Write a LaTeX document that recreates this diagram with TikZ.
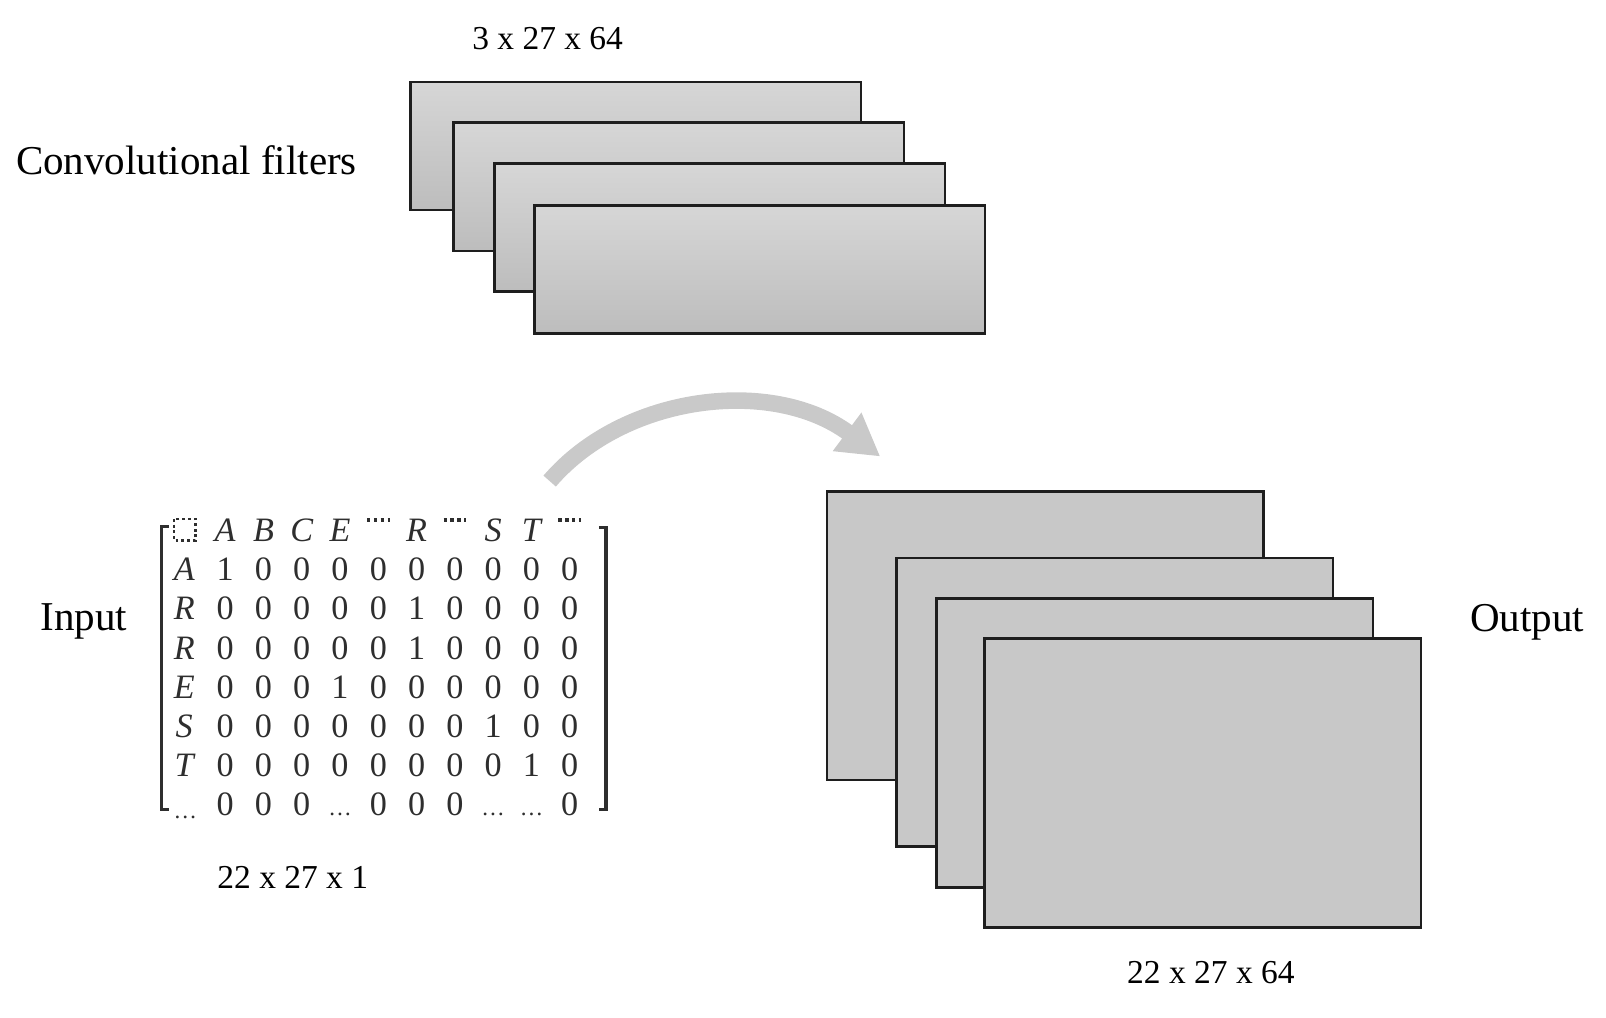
\documentclass[tikz,border=0pt]{standalone}
\usepackage{fontspec}
\setmainfont{Liberation Serif}
\usetikzlibrary{arrows.meta}
\definecolor{boxedge}{HTML}{1E1E1E}
\definecolor{outfill}{HTML}{C8C8C8}
\definecolor{arrowgray}{HTML}{C9C9C9}
\definecolor{inkgray}{HTML}{2E2E2E}
\begin{document}
\begin{tikzpicture}[x=0.01cm,y=-0.01cm,
  lbl/.style={inner sep=0pt, font=\fontsize{11.4}{13}\selectfont},
  dimlbl/.style={inner sep=0pt, font=\fontsize{9.3}{11}\selectfont},
  cell/.style={inner sep=0pt, anchor=base, text=inkgray, font=\fontsize{9.5}{11}\selectfont},
  ell/.style={inner sep=0pt, anchor=base, text=inkgray, font=\fontsize{6.5}{8}\selectfont},
  filtbox/.style={draw=boxedge, line width=0.75pt, top color=black!16, bottom color=black!26,
    anchor=north west, minimum width=4.40cm, minimum height=1.25cm, inner sep=0pt, outer sep=0pt},
  outbox/.style={draw=boxedge, line width=0.75pt, fill=outfill,
    anchor=north west, minimum width=4.26cm, minimum height=2.82cm, inner sep=0pt, outer sep=0pt},
  hdots/.style={inkgray, line width=0.9pt, dash pattern=on 0.9pt off 1.0pt},
  brk/.style={inkgray, line width=0.9pt}]
\useasboundingbox (0,0) rectangle (1569,994);

% labels
\node[lbl, anchor=west] (cf) at (15,157) {Convolutional filters};
\node[dimlbl] (fdim) at (535,38) {3 x 27 x 64};
\node[lbl] (inp) at (82,607) {Input};
\node[lbl] (outl) at (1492,608) {Output};
\node[dimlbl] (idim) at (286,857) {22 x 27 x 1};
\node[dimlbl] (odim) at (1183,950) {22 x 27 x 64};

% convolutional filters
\node[filtbox] (f1) at (401,80) {};
\node[filtbox] (f2) at (443,120) {};
\node[filtbox] (f3) at (483,160) {};
\node[filtbox] (f4) at (522,201) {};

% output feature maps
\node[outbox] (o1) at (808,480) {};
\node[outbox] (o2) at (876,545) {};
\node[outbox] (o3) at (915,585) {};
\node[outbox] (o4) at (962,624) {};

% arrow
\coordinate (as) at (537,470);
\coordinate (ae) at (860,446);
\draw[arrowgray, line width=4.6pt, -{Triangle[width=12.5pt,length=11.5pt]}]
  (as) .. controls (610,385) and (755,368) .. (ae);

% input matrix
\draw[inkgray, line width=0.6pt, dash pattern=on 0.8pt off 0.8pt] (170,507) rectangle (191,528);
\foreach \c/\t in {1/A,2/B,3/C,4/E,6/R,8/S,9/T}
  \node[cell] (h\c) at ({220+(\c-1)*37.4},529) {\itshape \t};
\foreach \c in {5,7,10}
  \draw[hdots] ({220+(\c-1)*37.4-11},508) -- ({220+(\c-1)*37.4+11},508);
\foreach \lab/\vals [count=\r] in {
  A/{1,0,0,0,0,0,0,0,0,0},
  R/{0,0,0,0,0,1,0,0,0,0},
  R/{0,0,0,0,0,1,0,0,0,0},
  E/{0,0,0,1,0,0,0,0,0,0},
  S/{0,0,0,0,0,0,0,1,0,0},
  T/{0,0,0,0,0,0,0,0,1,0}} {
  \node[cell] (l\r) at (180,{518+\r*38.3+11}) {\itshape \lab};
  \foreach \v [count=\c] in \vals
    \node[cell] (m\r-\c) at ({220+(\c-1)*37.4},{518+\r*38.3+11}) {\v};
}
\node[ell] (l7) at (181,800) {…};
\foreach \c in {1,2,3,5,6,7,10}
  \node[cell] (m7-\c) at ({220+(\c-1)*37.4},797) {0};
\foreach \c in {4,8,9}
  \node[ell] (m7-\c) at ({220+(\c-1)*37.4},797) {…};
\draw[brk] (165,514) -- (158,514) -- (158,791) -- (165,791);
\draw[brk] (585,515) -- (592,515) -- (592,791) -- (585,791);
\end{tikzpicture}
\end{document}
